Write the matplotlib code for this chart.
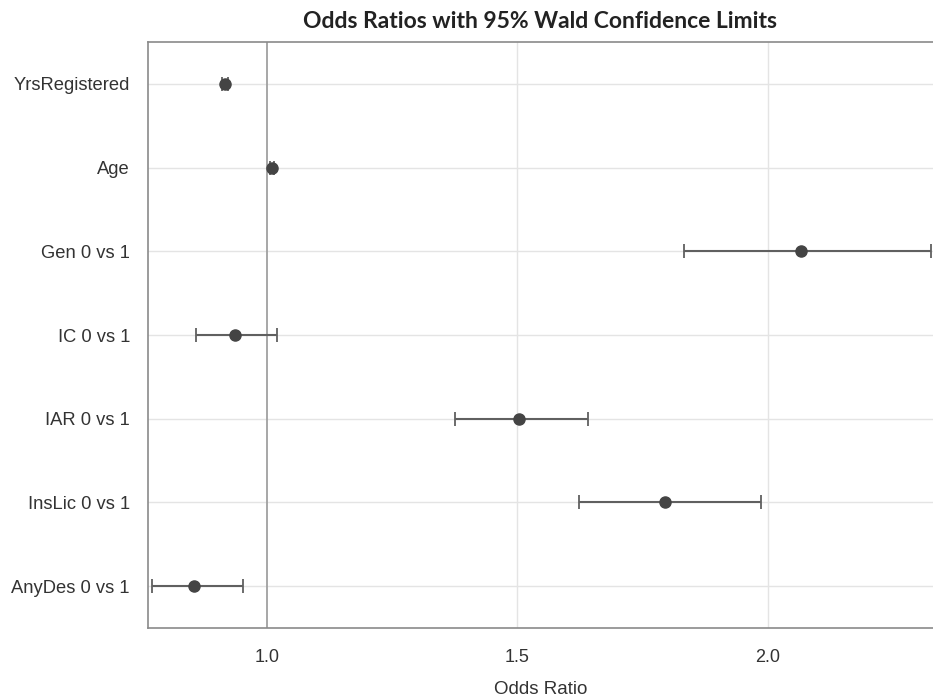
import numpy as np
import matplotlib
matplotlib.use("Agg")
import matplotlib.pyplot as plt

# effects listed top to bottom, as in the reference
effects = ["YrsRegistered", "Age", "Gen 0 vs 1", "IC 0 vs 1",
           "IAR 0 vs 1", "InsLic 0 vs 1", "AnyDes 0 vs 1"]
odds_ratio = [0.916, 1.010, 2.066, 0.936, 1.503, 1.796, 0.854]
lower_cl = [0.910, 1.006, 1.832, 0.858, 1.376, 1.624, 0.771]
upper_cl = [0.922, 1.014, 2.326, 1.021, 1.642, 1.987, 0.952]
xticks = [1.0, 1.5, 2.0]

plt.rcParams['font.family'] = ['Liberation Sans', 'DejaVu Sans']

fig = plt.figure(figsize=(9.33, 6.98), dpi=100)
ax = fig.add_axes([0.1586, 0.1003, 0.8414, 0.8395])

ypos = np.arange(len(effects))[::-1]
orr = np.array(odds_ratio)
err = np.array([orr - np.array(lower_cl), np.array(upper_cl) - orr])

# grid + reference line at 1
for y in ypos:
    ax.axhline(y, color='#e4e4e4', lw=1.0, zorder=0)
for x in xticks[1:]:
    ax.axvline(x, color='#e4e4e4', lw=1.0, zorder=0)
ax.axvline(1.0, color='#a0a0a0', lw=1.3, zorder=1)

ax.errorbar(orr, ypos, xerr=err, fmt='o', color='#444444', ecolor='#606060',
            elinewidth=1.5, capsize=5, capthick=1.3, markersize=8, zorder=3)

ax.set_xlim(0.763, 2.33)
ax.set_ylim(-0.5, len(effects) - 0.5)
ax.set_yticks(ypos)
ax.set_yticklabels(effects, fontsize=13.2, color='#333333')
ax.set_xticks(xticks)
ax.set_xticklabels(["%.1f" % t for t in xticks], fontsize=13, color='#333333')
ax.tick_params(axis='both', length=0)
ax.tick_params(axis='x', pad=15)
ax.tick_params(axis='y', pad=13)

for side in ['left', 'bottom', 'top']:
    ax.spines[side].set_color('#8a8a8a')
    ax.spines[side].set_linewidth(1.2)
ax.spines['right'].set_visible(False)

ax.set_xlabel("Odds Ratio", fontsize=13.5, color='#333333', labelpad=11)
ax.set_title("Odds Ratios with 95% Wald Confidence Limits", fontsize=16.5,
             fontweight='bold', family=['Lato', 'DejaVu Sans'],
             color='#222222', pad=10)

fig.savefig("out.png", dpi=100)
